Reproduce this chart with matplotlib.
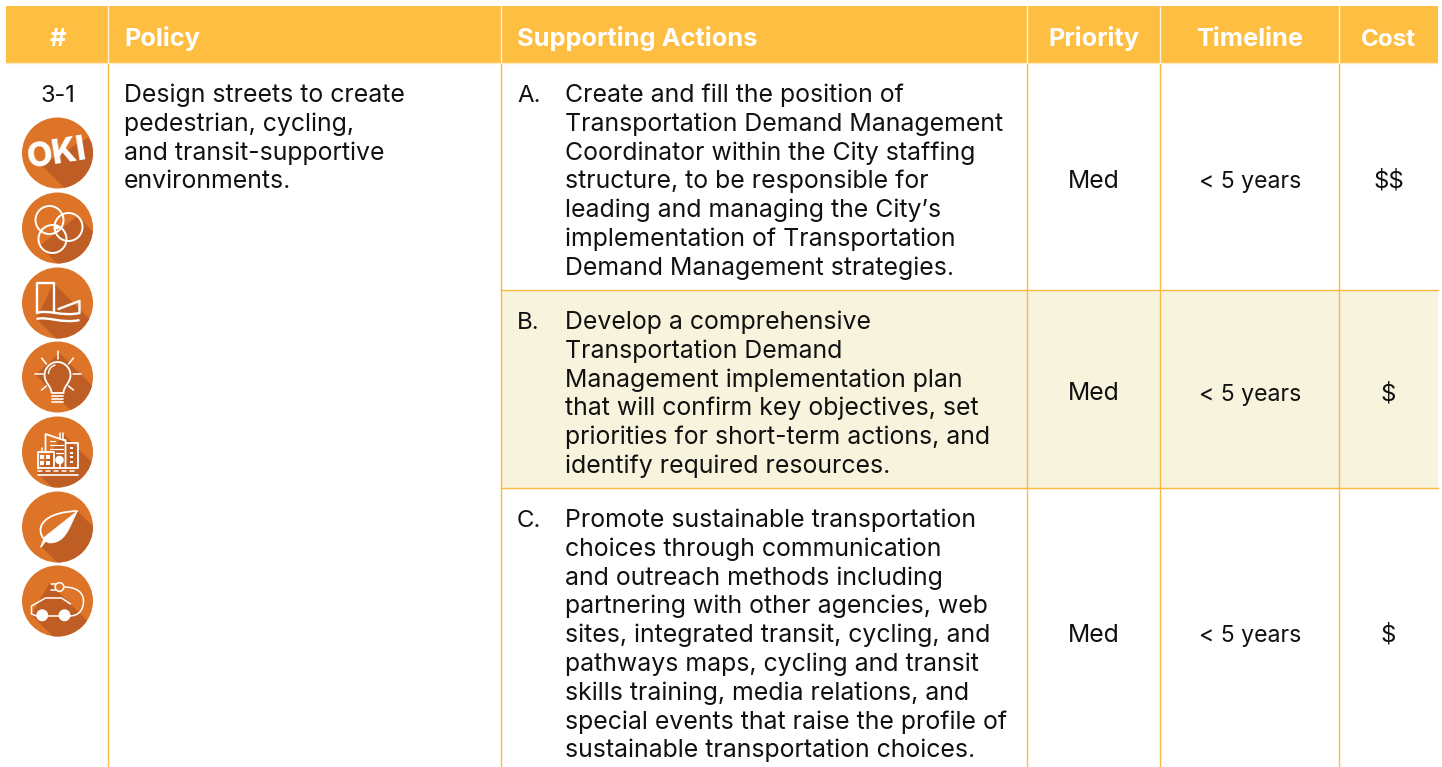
import matplotlib
matplotlib.use("Agg")
import matplotlib.pyplot as plt
from matplotlib.patches import Rectangle, Circle, Polygon, PathPatch
from matplotlib.path import Path

# table text
headers = ["#", "Policy", "Supporting Actions", "Priority", "Timeline", "Cost"]
policy_no = "3-1"
policy_lines = ["Design streets to create", "pedestrian, cycling,", "and transit-supportive", "environments."]
action_labels = ["A.", "B.", "C."]
action_lines = [
    ["Create and fill the position of", "Transportation Demand Management", "Coordinator within the City staffing",
     "structure, to be responsible for", "leading and managing the City’s", "implementation of Transportation",
     "Demand Management strategies."],
    ["Develop a comprehensive", "Transportation Demand", "Management implementation plan",
     "that will confirm key objectives, set", "priorities for short-term actions, and", "identify required resources."],
    ["Promote sustainable transportation", "choices through communication", "and outreach methods including",
     "partnering with other agencies, web", "sites, integrated transit, cycling, and", "pathways maps, cycling and transit",
     "skills training, media relations, and", "special events that raise the profile of",
     "sustainable transportation choices."],
]
priority = ["Med", "Med", "Med"]
timeline = ["< 5 years", "< 5 years", "< 5 years"]
cost = ["$$", "$", "$"]

# layout in pixels
col_edges = [6, 108, 501, 1027, 1160, 1339, 1438]
head_top, head_bot = 6, 63
row_edges = [63, 290, 488, 767]
first_base = [102, 329, 527]
line_h = 28.8
icon_y = [153, 228, 303, 377, 452, 527, 601]
icon_x = 57.5
icon_r = 35.5

ORANGE = "#febe42"
LINE = "#fbb93f"
BAND = "#f8f3dd"
DISC = "#dd7427"
SHADE = "#be5e25"
INK = "#111111"
FONT = "Inter"
SIZE = 17.9

fig = plt.figure(figsize=(14.42, 7.67), dpi=100)
ax = fig.add_axes([0, 0, 1, 1])
ax.set_xlim(0, 1442)
ax.set_ylim(767, 0)
ax.axis("off")

# header band and cell backgrounds
ax.add_patch(Rectangle((col_edges[0], head_top), col_edges[-1] - col_edges[0], head_bot - head_top, fc=ORANGE, ec="none"))
ax.add_patch(Rectangle((col_edges[2], row_edges[1]), col_edges[-1] - col_edges[2], row_edges[2] - row_edges[1], fc=BAND, ec="none"))

for x in col_edges[1:-1]:
    ax.plot([x, x], [head_top, head_bot], color="#fff3d8", lw=1.0, solid_capstyle="butt")
    ax.plot([x, x], [head_bot, 767], color=LINE, lw=1.0, solid_capstyle="butt")
ax.plot([col_edges[0], col_edges[-1]], [head_bot, head_bot], color="#ffe9bd", lw=1.0)
for y in row_edges[1:3]:
    ax.plot([col_edges[2], col_edges[-1]], [y, y], color=LINE, lw=1.0)

# header text
head_x = [57.5, 124, 517, 1094, 1250, 1388.5]
for i, h in enumerate(headers):
    ax.text(head_x[i], 46, h, color="white", fontsize=18.3 if i != 5 else 17.4, fontweight="bold", family=FONT,
            ha="left" if i in (1, 2) else "center", va="baseline")

ax.text(57.5, 102, policy_no, fontsize=17, family=FONT, ha="center", va="baseline", color=INK)
for i, line in enumerate(policy_lines):
    ax.text(124, 102 + i * line_h, line, fontsize=SIZE, family=FONT, va="baseline", color=INK)

for r, lines in enumerate(action_lines):
    ax.text(517, first_base[r], action_labels[r], fontsize=17.3, family=FONT, va="baseline", color=INK)
    for i, line in enumerate(lines):
        ax.text(565, first_base[r] + i * line_h, line, fontsize=SIZE, family=FONT, va="baseline", color=INK)
    mid = first_base[r] + (len(lines) - 1) * line_h / 2 - 0.5
    ax.text(1094, mid, priority[r], fontsize=17.8, family=FONT, ha="center", va="baseline", color=INK)
    ax.text(1250, mid, timeline[r], fontsize=16.6, family=FONT, ha="center", va="baseline", color=INK)
    ax.text(1388.5, mid, cost[r], fontsize=17.3, family=FONT, ha="center", va="baseline", color=INK, parse_math=False)


# icons: everything below is in pixels relative to the disc centre
def disc(cy, p1, p2):
    ax.add_patch(Circle((icon_x, cy), icon_r, fc=DISC, ec="none"))
    pts = [p1, (p1[0] + 70, p1[1] + 70), (p2[0] + 70, p2[1] + 70), p2]
    s = Polygon([(icon_x + a, cy + b) for a, b in pts], fc=SHADE, ec="none")
    ax.add_patch(s)
    s.set_clip_path(Circle((icon_x, cy), icon_r, transform=ax.transData))


def wline(cy, pts, lw=1.4):
    ax.plot([icon_x + a for a, b in pts], [cy + b for a, b in pts], color="white", lw=lw,
            solid_capstyle="round", solid_joinstyle="round")


def wcurve(cy, verts, codes, lw=1.4, fill=False):
    v = [(icon_x + a, cy + b) for a, b in verts]
    ax.add_patch(PathPatch(Path(v, codes), fc="white" if fill else "none", ec="white", lw=lw))


def wcircle(cy, a, b, r, lw=1.4, fill=False):
    ax.add_patch(Circle((icon_x + a, cy + b), r, fc="white" if fill else "none", ec="white", lw=lw))


M, L, C4 = Path.MOVETO, Path.LINETO, Path.CURVE4

# OKI
cy = icon_y[0]
disc(cy, (30, -15), (-16, 12))
ax.text(icon_x - 0.5, cy + 1, "OKI", color="white", fontsize=24, fontweight="heavy", family=FONT,
        rotation=9, ha="center", va="center")

# rings
cy = icon_y[1]
disc(cy, (20, -12), (-18, 18))
wcircle(cy, -8, -8, 14)
wcircle(cy, 11, -1, 14)
wcircle(cy, -5, 11, 14)
wcircle(cy, -1, -1, 1.5, fill=True)

# land and water
cy = icon_y[2]
disc(cy, (-4, -20), (-21, 16))
wline(cy, [(-21, 10), (-21, -20), (-4, -20), (-4, 10)], 1.7)
wline(cy, [(1, 6), (22, -2), (22, 10)], 1.7)
wcurve(cy, [(-21, 10), (-10, 6), (5, 14), (22, 10)], [M, C4, C4, C4], 1.7)
wcurve(cy, [(-21, 16), (-10, 13), (5, 21), (22, 17)], [M, C4, C4, C4], 1.7)

# bulb
cy = icon_y[3]
disc(cy, (2, -24), (-22, -2))
wcurve(cy, [(-6, 16), (-6, 9), (-13, 6), (-13, -2), (-13, -9), (-7, -15), (0, -15), (7, -15), (13, -9), (13, -2),
            (13, 6), (6, 9), (6, 16), (-6, 16)],
       [M, C4, C4, C4, C4, C4, C4, C4, C4, C4, C4, C4, C4, L], 1.3)
wcurve(cy, [(-9, -3), (-9, -8), (-6, -11), (-2, -12)], [M, C4, C4, C4], 1.0)
for yy in [18.5, 21.5, 24.5]:
    wline(cy, [(-5.5, yy), (5.5, yy)], 1.2)
for ray in [[(0, -26), (0, -18)], [(-16, -19), (-11, -13)], [(16, -19), (11, -13)], [(-23, -3), (-15, -3)],
            [(23, -3), (15, -3)], [(-16, 13), (-11, 9)], [(16, 13), (11, 9)]]:
    wline(cy, ray, 1.1)

# buildings
cy = icon_y[4]
disc(cy, (6, -18), (-20, 21))
wline(cy, [(-20, 16), (-20, 0), (-4, 0), (-4, 16)], 1.3)
for wx in [-17.5, -11.5]:
    for wy in [2.5, 9]:
        ax.add_patch(Rectangle((icon_x + wx, cy + wy), 4, 4, fc="white", ec="none"))
wline(cy, [(-16, -4), (-16, 0)], 1.1)
wline(cy, [(-12, 0), (-12, -18), (6, -12), (8, -12), (8, 16)], 1.3)
wline(cy, [(8, -9), (20, -9), (20, 16), (-20, 16)], 1.3)
wline(cy, [(2, -19), (2, -13)], 1.1)
wline(cy, [(5, -19), (5, -12)], 1.1)
for yy in [-4, 0.5, 5, 10]:
    ax.add_patch(Rectangle((icon_x + 12, cy + yy - 1), 3.5, 2.4, fc="white", ec="none"))
wline(cy, [(-8, -11), (-3, -11)], 0.9)
wline(cy, [(-8, -7), (5, -7)], 0.9)
wline(cy, [(-8, -3.5), (5, -3.5)], 0.9)
wline(cy, [(-2, 1), (5, 1)], 0.9)
wcircle(cy, 2, 8, 3.3, fill=True)
wline(cy, [(2, 8), (2, 16)], 1.2)
for dash in range(-20, 20, 8):
    wline(cy, [(dash, 19), (dash + 4, 19)], 1.1)
wline(cy, [(-20, 23), (20, 23)], 1.2)

# leaf
cy = icon_y[5]
disc(cy, (20, -16), (-16, 20))
wcurve(cy, [(20, -16), (-8, -15), (-17, -5), (-17, 3), (-17, 8), (-14, 12), (-12, 14)], [M, C4, C4, C4, C4, C4, C4], 1.3)
wcurve(cy, [(20, -16), (11, 2), (8, 16), (-8, 16), (-13, 14), (-12, 14), (-16, 20), (-17, 20), (-13, 10), (20, -16)],
       [M, C4, C4, C4, L, L, L, L, L, L], 0.5, fill=True)

# car and plug
cy = icon_y[6]
disc(cy, (-8, -18), (-26, 14))
wline(cy, [(-21, 15), (-26, 13), (-26, 5), (-12, -3), (4, -3), (13, 3)], 1.1)
wline(cy, [(-10, 15), (2, 15)], 1.1)
wcircle(cy, -15.3, 14.3, 5, fill=True)
wcircle(cy, 7, 14.3, 5, fill=True)
wcurve(cy, [(12, 15), (22, 15), (26, 8), (26, 0), (26, -8), (20, -14), (6, -14)], [M, C4, C4, C4, C4, C4, C4], 1.1)
wcircle(cy, 2, -14, 4.3, lw=1.1)
wline(cy, [(-7, -17), (-2, -17)], 1.1)
wline(cy, [(-7, -11), (-2, -11)], 1.1)

fig.savefig("out.png", dpi=100, facecolor="white")
